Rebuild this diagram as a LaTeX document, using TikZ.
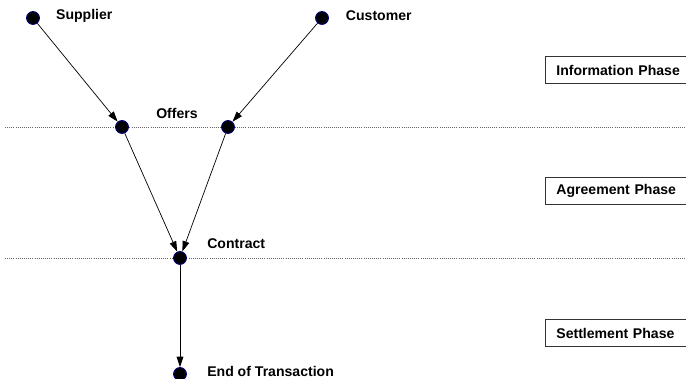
\documentclass[tikz,border=0pt]{standalone}
\usepackage{fontspec}
\setmainfont{Liberation Sans}
\usetikzlibrary{arrows.meta,positioning}

\begin{document}
\begin{tikzpicture}[x=0.025cm, y=-0.025cm,
  event/.style={circle, fill=black, draw=blue!45!black, line width=0.7pt,
    inner sep=0pt, minimum size=0.32cm},
  lbl/.style={font=\fontsize{10}{12}\selectfont\bfseries, inner sep=0pt},
  phase/.style={rectangle, draw=black!80, line width=0.6pt, anchor=west,
    minimum height=0.66cm, text width=3.1cm, align=left, inner xsep=0.275cm,
    font=\fontsize{10}{12}\selectfont\bfseries},
  arr/.style={-{Triangle[length=2.6mm, width=1.7mm]}, line width=0.5pt},
  sep/.style={densely dotted, black!60, line width=0.5pt},
]
  \useasboundingbox (0,0) rectangle (686,379);
  % phase separators
  \draw[sep] (5,127) -- (686,127);
  \draw[sep] (5,258) -- (686,258);
  % events
  \node[event] (sup) at (33,18) {};
  \node[event] (cus) at (322,18) {};
  \node[event] (offl) at (122,127) {};
  \node[event] (offr) at (228,127) {};
  \node[event] (con) at (180,258) {};
  \node[event] (end) at (180,374) {};
  % labels
  \node[lbl, right=0.4cm of sup, yshift=0.05cm] {Supplier};
  \node[lbl, right=0.42cm of cus, yshift=0.05cm] {Customer};
  \node[lbl] at (177,113) {Offers};
  \node[lbl, anchor=west] at (207,244) {Contract};
  \node[lbl, anchor=west] at (207,371) {End of Transaction};
  % phases
  \node[phase] (inf) at (545,70) {Information Phase};
  \node[phase] (agr) at (545,191) {Agreement Phase};
  \node[phase] (set) at (545,333) {Settlement Phase};
  % flow
  \draw[arr] (sup) -- (offl);
  \draw[arr] (cus) -- (offr);
  \draw[arr] (offl) -- (con);
  \draw[arr] (offr) -- (con);
  \draw[arr] (con) -- (end);
\end{tikzpicture}
\end{document}
